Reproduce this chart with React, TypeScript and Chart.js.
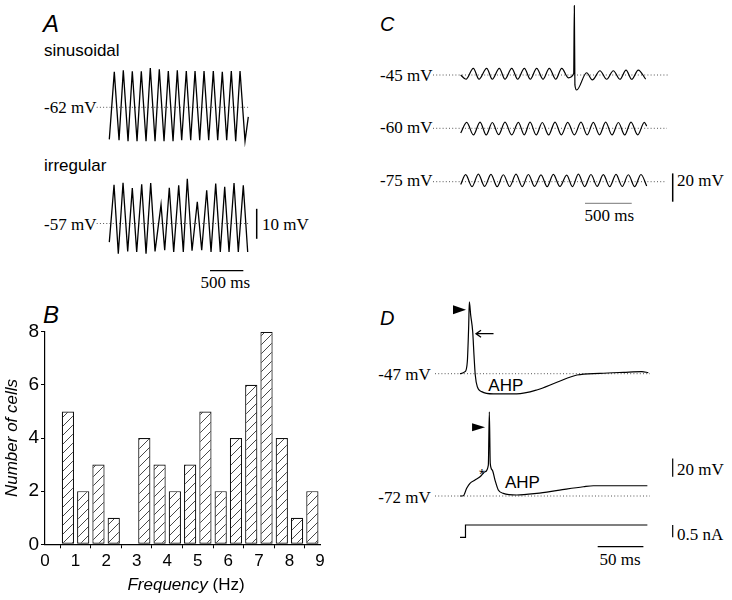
import React, { useEffect, useRef } from 'react';
import { Chart, registerables } from 'chart.js';

Chart.register(...registerables);

// ---------------- Panel B: histogram ----------------
const binCenters = [0.75, 1.25, 1.75, 2.25, 2.75, 3.25, 3.75, 4.25, 4.75, 5.25, 5.75, 6.25, 6.75, 7.25, 7.75, 8.25, 8.75];
const cellCounts = [5, 2, 3, 1, 0, 4, 3, 2, 3, 5, 2, 4, 6, 8, 4, 1, 2];
const freqTicks = [0, 1, 2, 3, 4, 5, 6, 7, 8, 9];
const countTicks = [0, 2, 4, 6, 8];

// ---------------- Panel A: membrane potential oscillations (ms, mV) ----------------
const sinT = [0, 75, 146, 210, 281, 345, 416, 480, 551, 615, 686, 750, 821, 885, 956, 1020, 1086, 1155, 1221, 1286, 1356, 1421, 1491, 1560, 1626, 1695, 1761, 1830, 1896, 1961, 2036, 2085];
const sinV = [-72.7, -50.2, -73.0, -49.7, -73.3, -50.0, -73.3, -50.0, -73.3, -48.9, -73.3, -49.3, -73.3, -49.9, -73.3, -49.7, -73.0, -49.9, -73.0, -49.9, -73.0, -49.9, -73.0, -49.9, -73.0, -50.2, -73.0, -49.9, -73.3, -49.9, -73.3, -65.2];
const irrT = [0, 71, 135, 206, 276, 345, 411, 486, 551, 621, 686, 776, 831, 900, 966, 1041, 1110, 1170, 1241, 1320, 1386, 1461, 1526, 1596, 1665, 1731, 1796, 1871, 1935, 2010, 2076];
const irrV = [-63.2, -44.1, -67.1, -43.4, -66.3, -45.2, -66.5, -43.9, -67.1, -43.5, -66.3, -50.7, -65.9, -45.1, -66.5, -44.3, -66.5, -42.1, -66.1, -49.8, -65.9, -45.9, -66.5, -43.7, -66.5, -44.8, -66.5, -43.5, -66.5, -44.3, -66.5];

// ---------------- Panel C (ms, mV) ----------------
const c45T = [0, 57, 135, 196, 278, 338, 413, 474, 546, 610, 681, 745, 813, 881, 948, 1017, 1081, 1151, 1209, 1216, 1222, 1241, 1348, 1408, 1490, 1562, 1633, 1704, 1769, 1830, 1900, 1980];
const c45V = [-45, -48.0, -40.3, -48.0, -40.3, -48.0, -40.3, -48.0, -40.3, -48.0, -40.3, -48.0, -40.3, -48.0, -40.3, -48.0, -40.3, -47.0, -44, 4, -52, -55.6, -43.4, -48.5, -42, -48, -42, -48, -41.5, -48, -41.5, -48];
const c60T = [0, 64, 136, 207, 273, 338, 406, 474, 546, 617, 680, 742, 808, 873, 941, 1009, 1077, 1145, 1216, 1287, 1353, 1419, 1485, 1551, 1619, 1687, 1755, 1822, 1894, 1965, 1990];
const c60V = [-63.3, -55.8, -64.7, -55.6, -64.7, -55.9, -64.5, -55.7, -64.7, -55.8, -64.6, -55.7, -64.7, -55.9, -64.7, -55.6, -64.6, -55.8, -64.7, -55.7, -64.7, -55.8, -64.6, -55.7, -64.7, -55.9, -64.7, -55.6, -64.6, -55.8, -58.5];
const c75T = [0, 53, 121, 189, 256, 324, 390, 456, 524, 592, 658, 724, 791, 859, 925, 991, 1062, 1134, 1196, 1259, 1326, 1394, 1460, 1526, 1594, 1662, 1728, 1794, 1862, 1929, 1990];
const c75V = [-77, -70.0, -78.5, -69.6, -78.3, -69.8, -78.5, -70.1, -78.4, -69.7, -78.5, -69.9, -78.3, -70.2, -78.5, -69.8, -78.4, -70.3, -78.5, -69.7, -78.5, -69.9, -78.3, -70.0, -78.5, -69.8, -78.4, -70.1, -78.5, -69.9, -78.0];

// ---------------- Panel D (ms, mV, nA) ----------------
const d47T = [0, 5.5, 8.0, 9.5, 10.2, 11.7, 13.9, 15.3, 16.7, 18.9, 23.7, 36.4, 62, 84, 106, 128, 153, 179, 199, 206];
const d47V = [-47, -44.8, -33.9, 5, 31.5, 17.0, -1.2, -26.6, -48.4, -61.2, -66.6, -69.1, -69.1, -64.8, -56.4, -48.4, -46.6, -45.5, -44.8, -45.9];
const d72T = [0, 3.6, 7.3, 10.9, 16.4, 21.9, 27.4, 31.0, 32.1, 33.1, 35.3, 38.3, 41.9, 47.4, 62, 84, 109, 135, 146, 171, 205];
const d72V = [-72, -71.7, -63.6, -58.2, -54.6, -51.0, -45.5, -38.2, 19.9, -36.3, -43.6, -54.6, -65.5, -69.1, -70.9, -69.1, -65.5, -61.9, -60.8, -60.8, -60.8];
const stepT = [0, 6, 6, 205];
const stepI = [0, 0, 0.5, 0.5];

// scale-bar sizes
const A_MV_BAR = 10;
const A_MS_BAR = 500;
const C_MV_BAR = 20;
const C_MS_BAR = 500;
const D_MV_BAR = 20;
const D_NA_BAR = 0.5;
const D_MS_BAR = 50;

const SANS = '"Liberation Sans", Arial, Helvetica, sans-serif';
const SERIF = '"Liberation Serif", "Times New Roman", Times, serif';

type Rect = { x: number; y: number; w: number; h: number };
type YMap = { id: string; base: number; basePx: number; ppu: number };

function makeHatch(): CanvasPattern | string {
  const c = document.createElement('canvas');
  const s = 9;
  c.width = s;
  c.height = s;
  const g = c.getContext('2d');
  if (!g) return '#fff';
  g.fillStyle = '#fff';
  g.fillRect(0, 0, s, s);
  g.strokeStyle = '#333';
  g.lineWidth = 0.9;
  g.beginPath();
  g.moveTo(0, s);
  g.lineTo(s, 0);
  g.moveTo(-1, 1);
  g.lineTo(1, -1);
  g.moveTo(s - 1, s + 1);
  g.lineTo(s + 1, s - 1);
  g.stroke();
  return g.createPattern(c, 'repeat') || '#fff';
}

function pts(t: number[], v: number[]) {
  return t.map((x, i) => ({ x, y: v[i] }));
}

function traceDs(t: number[], v: number[], yAxisID: string, smooth: boolean, width = 1.2) {
  return {
    data: pts(t, v),
    yAxisID,
    borderColor: '#000',
    borderWidth: width,
    pointRadius: 0,
    fill: false,
    tension: smooth ? 0.4 : 0,
    cubicInterpolationMode: smooth ? 'monotone' : 'default',
  };
}

function segDs(x1: number, y1: number, x2: number, y2: number, yAxisID: string, dotted = false, color = '#000', width = 1.2) {
  return {
    data: [{ x: x1, y: y1 }, { x: x2, y: y2 }],
    yAxisID,
    borderColor: color,
    borderWidth: width,
    borderDash: dotted ? [1, 2.2] : [],
    pointRadius: 0,
    fill: false,
    tension: 0,
  };
}

function makeMapper(rect: Rect, x0Px: number, msPerPx: number, ymaps: YMap[]) {
  const xAt = (px: number) => (px - x0Px) * msPerPx;
  const yAt = (id: string, py: number) => {
    const m = ymaps.find((q) => q.id === id)!;
    return m.base + (m.basePx - py) / m.ppu;
  };
  const scales: any = {
    x: { type: 'linear', display: false, min: xAt(rect.x), max: xAt(rect.x + rect.w) },
  };
  ymaps.forEach((m) => {
    scales[m.id] = {
      type: 'linear',
      display: false,
      min: m.base - (rect.y + rect.h - m.basePx) / m.ppu,
      max: m.base + (m.basePx - rect.y) / m.ppu,
    };
  });
  return { xAt, yAt, scales };
}

function traceConfig(scales: any, datasets: any[], plugins: any[] = []) {
  return {
    type: 'line',
    data: { datasets },
    options: {
      responsive: false,
      maintainAspectRatio: false,
      animation: false,
      events: [],
      layout: { padding: 0 },
      plugins: { legend: { display: false }, tooltip: { enabled: false } },
      scales,
    },
    plugins,
  };
}

// ---------- Panel A ----------
const rectA: Rect = { x: 90, y: 55, w: 185, h: 225 };
function buildA() {
  const ym: YMap[] = [
    { id: 'y', base: -62, basePx: 107.3, ppu: 3 },
    { id: 'y2', base: -57, basePx: 223.5, ppu: 3 },
  ];
  const { xAt, yAt, scales } = makeMapper(rectA, 109.3, 15.0, ym);
  const vb = yAt('y2', 238.8);
  const hbY = yAt('y2', 270.7);
  const datasets = [
    traceDs(sinT, sinV, 'y', false, 1.3),
    traceDs(irrT, irrV, 'y2', false, 1.3),
    segDs(xAt(96.7), -62, xAt(250), -62, 'y', true, '#555', 1),
    segDs(xAt(96.7), -57, xAt(250), -57, 'y2', true, '#555', 1),
    segDs(xAt(256.7), vb, xAt(256.7), vb + A_MV_BAR, 'y2', false, '#000', 1.5),
    segDs(xAt(210), hbY, xAt(210) + A_MS_BAR, hbY, 'y2', false, '#000', 1.2),
  ];
  return traceConfig(scales, datasets);
}

// ---------- Panel C ----------
const rectC: Rect = { x: 430, y: 0, w: 265, h: 225 };
function buildC() {
  const ppu = 28.3 / 20;
  const ym: YMap[] = [
    { id: 'y', base: -45, basePx: 75, ppu },
    { id: 'y2', base: -60, basePx: 128.3, ppu },
    { id: 'y3', base: -75, basePx: 181.7, ppu },
  ];
  const { xAt, yAt, scales } = makeMapper(rectC, 460.7, 10.7, ym);
  const vb = yAt('y3', 201.7);
  const hbY = yAt('y3', 203.3);
  const datasets = [
    traceDs(c45T, c45V, 'y', true),
    traceDs(c60T, c60V, 'y2', true),
    traceDs(c75T, c75V, 'y3', true),
    segDs(xAt(433), -45, xAt(668), -45, 'y', true, '#555', 1),
    segDs(xAt(433), -60, xAt(667), -60, 'y2', true, '#555', 1),
    segDs(xAt(433), -75, xAt(665), -75, 'y3', true, '#555', 1),
    segDs(xAt(672.7), vb, xAt(672.7), vb + C_MV_BAR, 'y3', false, '#000', 1.5),
    segDs(xAt(585), hbY, xAt(585) + C_MS_BAR, hbY, 'y3', false, '#777', 1),
  ];
  return traceConfig(scales, datasets);
}

// ---------- Panel D ----------
const rectD: Rect = { x: 430, y: 295, w: 265, h: 260 };
function peakIndex(v: number[]) {
  let k = 0;
  v.forEach((q, i) => {
    if (q > v[k]) k = i;
  });
  return k;
}
function buildD() {
  const ppu = 18.3 / 20;
  const ym: YMap[] = [
    { id: 'y', base: -47, basePx: 373.7, ppu },
    { id: 'y2', base: -72, basePx: 496, ppu },
    { id: 'yI', base: 0, basePx: 537.3, ppu: 24.6 },
  ];
  const { xAt, yAt, scales } = makeMapper(rectD, 460, 50 / 45.7, ym);
  const vb = yAt('y2', 476.7);
  const hbY = yAt('yI', 546.7);
  const datasets = [
    traceDs(d47T, d47V, 'y', true),
    traceDs(d72T, d72V, 'y2', true),
    traceDs(stepT, stepI, 'yI', false),
    segDs(xAt(435), -47, xAt(650), -47, 'y', true, '#555', 1),
    segDs(xAt(435), -72, xAt(650), -72, 'y2', true, '#555', 1),
    segDs(xAt(672.7), vb, xAt(672.7), vb + D_MV_BAR, 'y2', false, '#000', 1.2),
    segDs(xAt(672.7), 0, xAt(672.7), D_NA_BAR, 'yI', false, '#000', 1.2),
    segDs(xAt(597.7), hbY, xAt(597.7) + D_MS_BAR, hbY, 'yI', false, '#000', 1.2),
  ];
  const marks = {
    id: 'dMarks',
    afterDatasetsDraw(chart: any) {
      const ctx = chart.ctx as CanvasRenderingContext2D;
      const sx = chart.scales.x;
      const p1 = peakIndex(d47V);
      const p2 = peakIndex(d72V);
      const x1 = sx.getPixelForValue(d47T[p1]);
      const y1 = chart.scales.y.getPixelForValue(d47V[p1]);
      const x2 = sx.getPixelForValue(d72T[p2]);
      const y2 = chart.scales.y2.getPixelForValue(d72V[p2]);
      ctx.save();
      ctx.fillStyle = '#000';
      ctx.strokeStyle = '#000';
      const tri = (tx: number, ty: number, len: number, half: number) => {
        ctx.beginPath();
        ctx.moveTo(tx, ty);
        ctx.lineTo(tx - len, ty - half);
        ctx.lineTo(tx - len, ty + half);
        ctx.closePath();
        ctx.fill();
      };
      tri(x1 - 3.3, y1 + 7.8, 13, 4.5);
      tri(x2 - 4.3, y2 + 15.3, 13, 4);
      // open arrow pointing left at the shoulder of the first spike
      const ax = x1 + 6.7;
      const ay = y1 + 31.8;
      ctx.lineWidth = 1.3;
      ctx.beginPath();
      ctx.moveTo(ax, ay);
      ctx.lineTo(ax + 17.5, ay);
      ctx.moveTo(ax + 5, ay - 3.5);
      ctx.lineTo(ax, ay);
      ctx.lineTo(ax + 5, ay + 3.5);
      ctx.stroke();
      ctx.restore();
    },
  };
  return traceConfig(scales, datasets, [marks]);
}

// ---------- Panel B ----------
const rectB: Rect = { x: 0, y: 300, w: 340, h: 300 };
function buildB() {
  const axisGrid = { display: true, drawOnChartArea: false, drawTicks: true, tickLength: 4, color: '#000', lineWidth: 1 };
  const axisBorder = { display: true, color: '#000', width: 1.2 };
  const freqTitle = {
    id: 'freqTitle',
    afterDraw(chart: any) {
      const ctx = chart.ctx as CanvasRenderingContext2D;
      ctx.save();
      ctx.fillStyle = '#000';
      ctx.textBaseline = 'alphabetic';
      const fI = `italic 17px ${SANS}`;
      const fN = `17px ${SANS}`;
      ctx.font = fI;
      const w1 = ctx.measureText('Frequency').width;
      ctx.font = fN;
      const w2 = ctx.measureText(' (Hz)').width;
      const cx = 186 - rectB.x;
      const by = 589.5 - rectB.y;
      const x0 = cx - (w1 + w2) / 2;
      ctx.font = fI;
      ctx.fillText('Frequency', x0, by);
      ctx.font = fN;
      ctx.fillText(' (Hz)', x0 + w1, by);
      ctx.restore();
    },
  };
  return {
    type: 'bar',
    data: {
      datasets: [
        {
          data: pts(binCenters, cellCounts),
          backgroundColor: makeHatch(),
          borderColor: '#111',
          borderWidth: 1.2,
          borderSkipped: false,
          barPercentage: 0.8,
          categoryPercentage: 1,
        },
      ],
    },
    options: {
      responsive: false,
      maintainAspectRatio: false,
      animation: false,
      events: [],
      layout: { padding: { top: 31.7, right: 20, left: 0, bottom: 0 } },
      plugins: { legend: { display: false }, tooltip: { enabled: false } },
      scales: {
        x: {
          type: 'linear',
          min: freqTicks[0],
          max: freqTicks[freqTicks.length - 1],
          offset: false,
          afterBuildTicks: (s: any) => {
            s.ticks = freqTicks.map((v) => ({ value: v }));
          },
          ticks: { font: { family: SANS, size: 17 }, color: '#000', padding: 3, autoSkip: false, maxRotation: 0 },
          grid: axisGrid,
          border: axisBorder,
          afterFit: (s: any) => {
            s.height = 55.7;
          },
        },
        y: {
          type: 'linear',
          min: countTicks[0],
          max: countTicks[countTicks.length - 1],
          afterBuildTicks: (s: any) => {
            s.ticks = countTicks.map((v) => ({ value: v }));
          },
          ticks: { font: { family: SANS, size: 19 }, color: '#000', padding: 2 },
          grid: axisGrid,
          border: axisBorder,
          title: {
            display: true,
            text: 'Number of cells',
            font: { family: SANS, size: 17, style: 'italic' },
            color: '#000',
            padding: { top: 2, bottom: 0 },
          },
          afterFit: (s: any) => {
            s.width = 45;
          },
        },
      },
    },
    plugins: [freqTitle],
  };
}

function ChartCanvas({ rect, build }: { rect: Rect; build: () => any }) {
  const ref = useRef<HTMLCanvasElement>(null);
  useEffect(() => {
    if (!ref.current) return;
    const chart = new Chart(ref.current, build() as any);
    return () => chart.destroy();
  }, []);
  return (
    <canvas
      ref={ref}
      width={rect.w}
      height={rect.h}
      style={{ position: 'absolute', left: rect.x, top: rect.y, width: rect.w, height: rect.h }}
    />
  );
}

type Lbl = { t: string; x: number; b: number; size?: number; serif?: boolean; italic?: boolean; center?: boolean };

const labels: Lbl[] = [
  // A
  { t: 'A', x: 43, b: 31.7, size: 24, italic: true },
  { t: 'sinusoidal', x: 44, b: 56.7 },
  { t: '-62 mV', x: 44, b: 113.3, serif: true },
  { t: 'irregular', x: 44, b: 171.7 },
  { t: '-57 mV', x: 44, b: 230, serif: true },
  { t: '10 mV', x: 262, b: 230, serif: true },
  { t: '500 ms', x: 225.3, b: 288.7, serif: true, center: true },
  // B
  { t: 'B', x: 43, b: 323, size: 24, italic: true },
  // C
  { t: 'C', x: 380, b: 30.7, size: 20, italic: true },
  { t: '-45 mV', x: 380, b: 81, serif: true },
  { t: '-60 mV', x: 380, b: 133, serif: true },
  { t: '-75 mV', x: 380, b: 186.5, serif: true },
  { t: '20 mV', x: 677, b: 186.5, serif: true },
  { t: '500 ms', x: 609.3, b: 221.7, serif: true, center: true },
  // D
  { t: 'D', x: 380, b: 325, size: 20, italic: true },
  { t: '-47 mV', x: 378.3, b: 380.7, serif: true },
  { t: 'AHP', x: 488.3, b: 391.7 },
  { t: '*', x: 479, b: 479, size: 15 },
  { t: 'AHP', x: 505, b: 488.3 },
  { t: '-72 mV', x: 378.3, b: 503, serif: true },
  { t: '20 mV', x: 677, b: 475, serif: true },
  { t: '0.5 nA', x: 677, b: 540, serif: true },
  { t: '50 ms', x: 620, b: 565, serif: true, center: true },
];

function Label({ l }: { l: Lbl }) {
  const size = l.size ?? 17;
  return (
    <div
      style={{
        position: 'absolute',
        left: l.x,
        top: l.b - 0.84 * size,
        fontFamily: l.serif ? SERIF : SANS,
        fontSize: size,
        fontStyle: l.italic ? 'italic' : 'normal',
        lineHeight: 1,
        whiteSpace: 'nowrap',
        color: '#000',
        transform: l.center ? 'translateX(-50%)' : undefined,
      }}
    >
      {l.t}
    </div>
  );
}

export default function App() {
  return (
    <div style={{ position: 'absolute', left: 0, top: 0, width: 732, height: 600, background: '#fff', overflow: 'hidden' }}>
      {labels.map((l, i) => (
        <Label key={i} l={l} />
      ))}
      <ChartCanvas rect={rectA} build={buildA} />
      <ChartCanvas rect={rectB} build={buildB} />
      <ChartCanvas rect={rectC} build={buildC} />
      <ChartCanvas rect={rectD} build={buildD} />
    </div>
  );
}
